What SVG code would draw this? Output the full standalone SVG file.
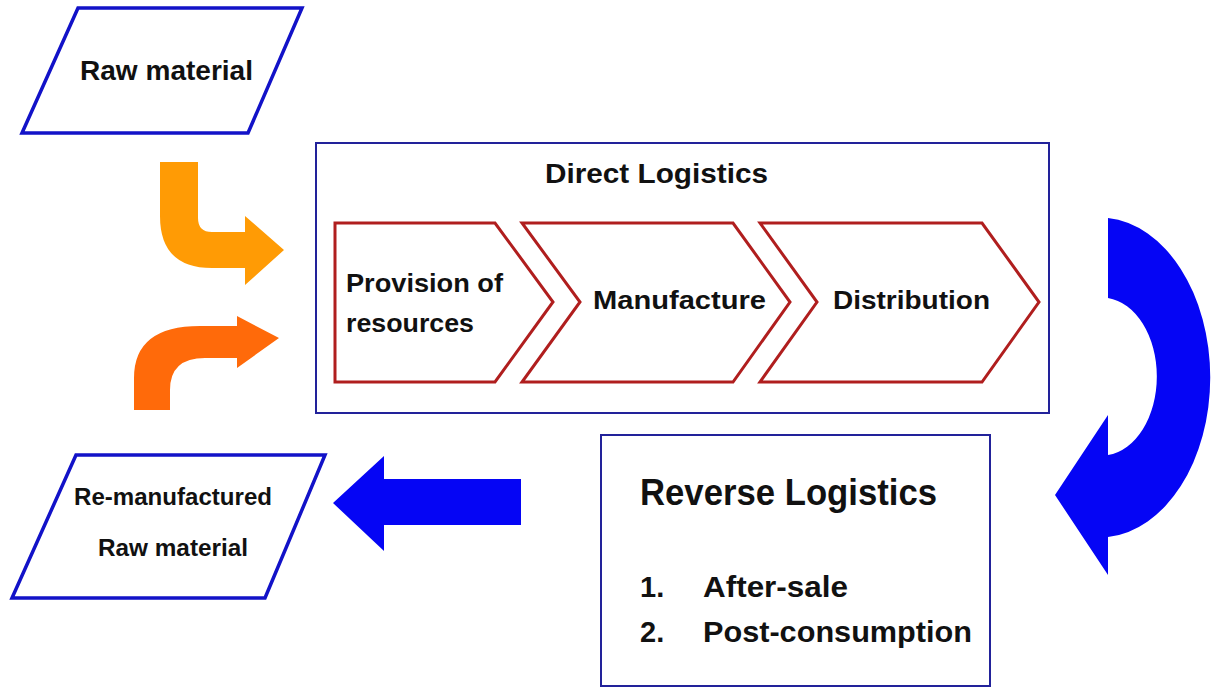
<svg xmlns="http://www.w3.org/2000/svg" width="1218" height="688" viewBox="0 0 1218 688">
<style>
.t{font-family:"Liberation Sans",Arial,sans-serif;font-weight:bold;fill:#111}
.para{fill:#fff;stroke:#1212c8;stroke-width:3.5}
.box{fill:#fff;stroke:#22229a;stroke-width:2}
.chev{fill:#fff;stroke:#b01e1e;stroke-width:3}
.blue{fill:#0505f5}
</style>
<rect width="1218" height="688" fill="#fff"/>
<g id="raw-material">
<polygon class="para" points="78,8 302,8 248,133 22,133"/>
<text class="t" x="80" y="80" font-size="27" textLength="173" lengthAdjust="spacingAndGlyphs">Raw material</text>
</g>
<g id="direct-logistics">
<rect class="box" x="316" y="143" width="733" height="270"/>
<text class="t" x="545" y="183" font-size="28" textLength="223" lengthAdjust="spacingAndGlyphs">Direct Logistics</text>
</g>
<g id="provision">
<polygon class="chev" points="335,223 495,223 553,302 495,382 335,382"/>
<text class="t" x="346" y="292" font-size="25" textLength="157" lengthAdjust="spacingAndGlyphs">Provision of</text>
<text class="t" x="346" y="332" font-size="25" textLength="128" lengthAdjust="spacingAndGlyphs">resources</text>
</g>
<g id="manufacture">
<polygon class="chev" points="522,223 733,223 790,302 733,382 522,382 580,302"/>
<text class="t" x="593" y="309" font-size="25" textLength="173" lengthAdjust="spacingAndGlyphs">Manufacture</text>
</g>
<g id="distribution">
<polygon class="chev" points="760,223 982,223 1039,302 982,382 760,382 817,302"/>
<text class="t" x="833" y="309" font-size="25" textLength="157" lengthAdjust="spacingAndGlyphs">Distribution</text>
</g>
<g id="reverse-logistics">
<rect class="box" x="601" y="435" width="389" height="251"/>
<text class="t" x="640" y="505" font-size="36" textLength="297" lengthAdjust="spacingAndGlyphs">Reverse Logistics</text>
<text class="t" x="640" y="597" font-size="29">1.</text>
<text class="t" x="703" y="597" font-size="29" textLength="145" lengthAdjust="spacingAndGlyphs">After-sale</text>
<text class="t" x="640" y="642" font-size="29">2.</text>
<text class="t" x="703" y="642" font-size="29" textLength="269" lengthAdjust="spacingAndGlyphs">Post-consumption</text>
</g>
<g id="remanufactured">
<polygon class="para" points="76,455 325,455 265,598 12,598"/>
<text class="t" x="74" y="505" font-size="23" textLength="198" lengthAdjust="spacingAndGlyphs">Re-manufactured</text>
<text class="t" x="98" y="556" font-size="23" textLength="150" lengthAdjust="spacingAndGlyphs">Raw material</text>
</g>
<g id="connectors">
<path fill="#ff9b05" d="M160,162 L198,162 L198,218 Q198,232 212,232 L245,232 L245,216 L284,250 L245,285 L245,268 L212,268 Q160,268 160,216 Z"/>
<path fill="#ff6a0a" d="M134,410 L134,378 Q134,326 200,326 L237,326 L237,316 L279,338 L237,368 L237,358 L205,358 Q170,358 170,390 L170,410 Z"/>
<path class="blue" d="M1108,218 A111,160 0 0 1 1108,537 L1108,575 L1055,495 L1108,415 L1108,455 A55,79 0 0 0 1108,298 Z"/>
<path class="blue" d="M521,479 L521,525 L384,525 L384,551 L333,503 L384,456 L384,479 Z"/>
</g>
</svg>
